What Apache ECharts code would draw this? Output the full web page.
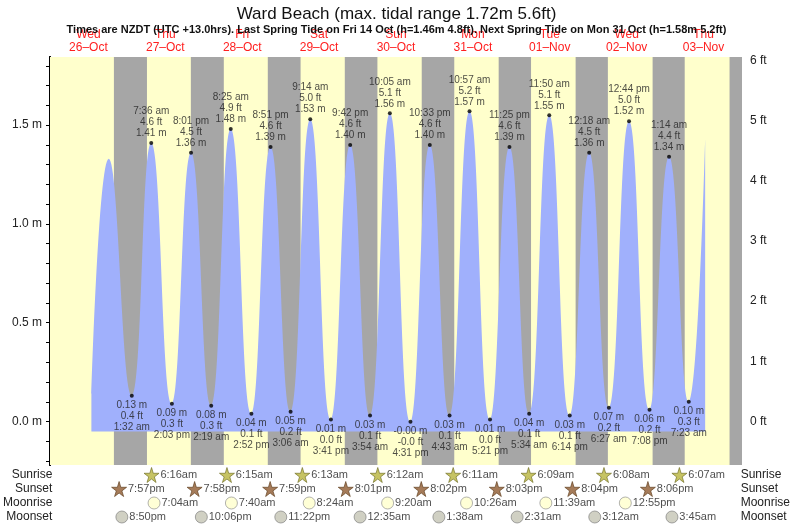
<!DOCTYPE html>
<html>
<head>
<meta charset="utf-8">
<script src="https://cdn.jsdelivr.net/npm/echarts@6/dist/echarts.min.js"></script>
<style>
  body { margin: 0; background: #fff; }
  #chart { width: 793px; height: 525px; }
</style>
</head>
<body>
<div id="chart"></div>
<script>
// tide extremes: [day of month, time, metres]
var highs = [
    [27, '7:36 am', 1.41], [27, '8:01 pm', 1.36], [28, '8:25 am', 1.48], [28, '8:51 pm', 1.39],
    [29, '9:14 am', 1.53], [29, '9:42 pm', 1.40], [30, '10:05 am', 1.56], [30, '10:33 pm', 1.40],
    [31, '10:57 am', 1.57], [31, '11:25 pm', 1.39], [1, '11:50 am', 1.55], [2, '12:18 am', 1.36],
    [2, '12:44 pm', 1.52], [3, '1:14 am', 1.34]
];
var lows = [
    [27, '1:32 am', 0.13], [27, '2:03 pm', 0.09], [28, '2:19 am', 0.08], [28, '2:52 pm', 0.04],
    [29, '3:06 am', 0.05], [29, '3:41 pm', 0.01], [30, '3:54 am', 0.03], [30, '4:31 pm', -0.001],
    [31, '4:43 am', 0.03], [31, '5:21 pm', 0.01], [1, '5:34 am', 0.04], [1, '6:14 pm', 0.03],
    [2, '6:27 am', 0.07], [2, '7:08 pm', 0.06], [3, '7:23 am', 0.10]
];
// unlabelled ends of the curve
var curveStart = [[26, '12:55 pm', 0.14], [26, '6:20 pm', 1.33]];
var curveEnd = [[3, '12:30 pm', 1.43]];

var dayNames = ['Wed', 'Thu', 'Fri', 'Sat', 'Sun', 'Mon', 'Tue', 'Wed', 'Thu'];
var dayDates = ['26-Oct', '27-Oct', '28-Oct', '29-Oct', '30-Oct', '31-Oct', '01-Nov', '02-Nov', '03-Nov'];

var sunrise = [[27, '6:16am'], [28, '6:15am'], [29, '6:13am'], [30, '6:12am'], [31, '6:11am'], [1, '6:09am'], [2, '6:08am'], [3, '6:07am']];
var sunset = [[26, '7:57pm'], [27, '7:58pm'], [28, '7:59pm'], [29, '8:01pm'], [30, '8:02pm'], [31, '8:03pm'], [1, '8:04pm'], [2, '8:06pm']];
var lastSunset = [3, '8:07pm'];
var moonrise = [[27, '7:04am'], [28, '7:40am'], [29, '8:24am'], [30, '9:20am'], [31, '10:26am'], [1, '11:39am'], [2, '12:55pm']];
var moonset = [[26, '8:50pm'], [27, '10:06pm'], [28, '11:22pm'], [30, '12:35am'], [31, '1:38am'], [1, '2:31am'], [2, '3:12am'], [3, '3:45am']];

var FONT = 'Liberation Sans';

// hours since Wed 26 Oct 00:00
function toHours(day, t) {
    var idx = day >= 26 ? day - 26 : day + 5;
    var m = t.replace(' ', '').match(/(\d+):(\d+)(am|pm)/);
    var h = parseInt(m[1]) % 12;
    if (m[3] === 'pm') h += 12;
    return idx * 24 + h + parseInt(m[2]) / 60;
}

var extremes = [];
curveStart.concat(highs, lows, curveEnd).forEach(function (e) {
    extremes.push([toHours(e[0], e[1]), e[2]]);
});
extremes.sort(function (a, b) { return a[0] - b[0]; });

function tideLabel(e, high) {
    var m = e[2].toFixed(2) + ' m';
    var ft = (e[2] / 0.3048).toFixed(1) + ' ft';
    return high ? [e[1], ft, m].join('\n') : [m, ft, e[1]].join('\n');
}

// yellow day background first, night bands on top of it
var bands = [[{ xAxis: 0, itemStyle: { color: '#ffffcc' } }, { xAxis: 216 }]];
var sunsetAll = sunset.concat([lastSunset]);
for (var i = 0; i < sunsetAll.length; i++) {
    var s = toHours(sunsetAll[i][0], sunsetAll[i][1]);
    var r = i < sunrise.length ? toHours(sunrise[i][0], sunrise[i][1]) : 216;
    bands.push([{ xAxis: s, itemStyle: { color: '#a6a6a6' } }, { xAxis: r }]);
}

var star = 'path://M50,0 L61,35 L98,35 L68,57 L79,91 L50,70 L21,91 L32,57 L2,35 L39,35 Z';
function rowSeries(list, row, symbol, size, color, border) {
    return {
        type: 'scatter', xAxisIndex: 1, yAxisIndex: 2,
        symbol: symbol, symbolSize: size,
        itemStyle: { color: color, borderColor: border, borderWidth: 0.8 },
        label: { show: true, position: 'right', distance: 1, fontSize: 11, color: '#222', fontFamily: FONT,
                 formatter: function (p) { return p.data[2]; } },
        data: list.map(function (e) { return [toHours(e[0], e[1]), row, e[1]]; }),
        z: 5
    };
}

var chart = echarts.init(document.getElementById('chart'));
var mTicks = [], ftTicks = [];
for (var k = -2; k <= 18; k++) mTicks.push(k / 10);
for (var k = -3; k <= 30; k++) ftTicks.push(k / 5);
var dayNoons = dayNames.map(function (d, i) { return i * 24 + 12; });
function dayIdx(v) { return Math.round((v - 12) / 24); }
var rows = ['Sunrise', 'Sunset', 'Moonrise', 'Moonset'];

var option = {
    animation: false,
    title: [
        { text: 'Ward Beach (max. tidal range 1.72m 5.6ft)', left: 'center', top: 1,
          textStyle: { fontSize: 17, fontWeight: 'normal', color: '#111', fontFamily: FONT } },
        { text: 'Times are NZDT (UTC +13.0hrs). Last Spring Tide on Fri 14 Oct (h=1.46m 4.8ft). Next Spring Tide on Mon 31 Oct (h=1.58m 5.2ft)',
          left: 'center', top: 19,
          textStyle: { fontSize: 11, fontWeight: 'bold', color: '#111', fontFamily: FONT } }
    ],
    grid: [
        { left: 50, right: 51, top: 57, bottom: 60 },
        { left: 50, right: 51, top: 468, height: 56 }
    ],
    xAxis: [
        { type: 'value', gridIndex: 0, min: 0, max: 216, position: 'top',
          axisLine: { show: false }, axisTick: { show: false }, splitLine: { show: false },
          axisLabel: { customValues: dayNoons, color: '#ff2020', fontSize: 12, margin: 3, fontFamily: FONT,
                       formatter: function (v) { return dayDates[dayIdx(v)].replace('-', '\u2013'); } } },
        { type: 'value', gridIndex: 1, min: 0, max: 216, show: false },
        { type: 'value', gridIndex: 0, min: 0, max: 216, position: 'top', offset: 13,
          axisLine: { show: false }, axisTick: { show: false }, splitLine: { show: false },
          axisLabel: { customValues: dayNoons, color: '#ff2020', fontSize: 12, margin: 3, fontFamily: FONT,
                       formatter: function (v) { return dayNames[dayIdx(v)]; } } }
    ],
    yAxis: [
        { type: 'value', gridIndex: 0, min: -0.22, max: 1.845, splitLine: { show: false },
          axisLine: { show: true, lineStyle: { color: '#000', width: 2 } },
          axisTick: { show: true, customValues: mTicks, length: 4, lineStyle: { color: '#000' } },
          axisLabel: { customValues: [0, 0.5, 1, 1.5], fontSize: 12, color: '#222', fontFamily: FONT,
                       formatter: function (v) { return v.toFixed(1) + ' m'; } } },
        { type: 'value', gridIndex: 0, position: 'right', min: -0.22 / 0.3048, max: 1.845 / 0.3048,
          splitLine: { show: false },
          axisLine: { show: true, lineStyle: { color: '#000', width: 2 } },
          axisTick: { show: true, customValues: ftTicks, length: 4, lineStyle: { color: '#000' } },
          axisLabel: { customValues: [0, 1, 2, 3, 4, 5, 6], fontSize: 12, color: '#222', fontFamily: FONT,
                       formatter: function (v) { return v + ' ft'; } } },
        { type: 'category', gridIndex: 1, inverse: true, data: rows,
          axisLine: { show: false }, axisTick: { show: false },
          axisLabel: { interval: 0, fontSize: 12, color: '#222', margin: 4, fontFamily: FONT } },
        { type: 'category', gridIndex: 1, inverse: true, position: 'right', data: rows,
          axisLine: { show: false }, axisTick: { show: false },
          axisLabel: { interval: 0, fontSize: 12, color: '#222', margin: 5, fontFamily: FONT } }
    ],
    series: [
        { type: 'line', xAxisIndex: 0, yAxisIndex: 0, data: [], symbol: 'none',
          markArea: { silent: true, data: bands }, z: 1 },
        { type: 'line', xAxisIndex: 0, yAxisIndex: 0, data: extremes, smooth: 0.5, symbol: 'none',
          lineStyle: { width: 0 }, areaStyle: { color: '#a0b0fc', opacity: 1, origin: -0.05 }, z: 3 },
        { type: 'scatter', xAxisIndex: 0, yAxisIndex: 0, symbolSize: 4, itemStyle: { color: '#000' },
          data: highs.map(function (e) { return { value: [toHours(e[0], e[1]), e[2]], lbl: tideLabel(e, true) }; }),
          label: { show: true, position: 'top', distance: 2, fontSize: 10, lineHeight: 11, color: '#222',
                   fontFamily: FONT, formatter: function (p) { return p.data.lbl; } }, z: 6 },
        { type: 'scatter', xAxisIndex: 0, yAxisIndex: 0, symbolSize: 4, itemStyle: { color: '#000' },
          data: lows.map(function (e) { return { value: [toHours(e[0], e[1]), e[2]], lbl: tideLabel(e, false) }; }),
          label: { show: true, position: 'bottom', distance: 2, fontSize: 10, lineHeight: 11, color: '#222',
                   fontFamily: FONT, formatter: function (p) { return p.data.lbl; } }, z: 6 },
        rowSeries(sunrise, 'Sunrise', star, 15, '#b8b43c', '#6b6a20'),
        rowSeries(sunset, 'Sunset', star, 15, '#8e5a30', '#5a3818'),
        rowSeries(moonrise, 'Moonrise', 'circle', 12, '#ffffcc', '#888'),
        rowSeries(moonset, 'Moonset', 'circle', 12, '#c4c4b4', '#777')
    ]
};
chart.setOption(option);
</script>
</body>
</html>
